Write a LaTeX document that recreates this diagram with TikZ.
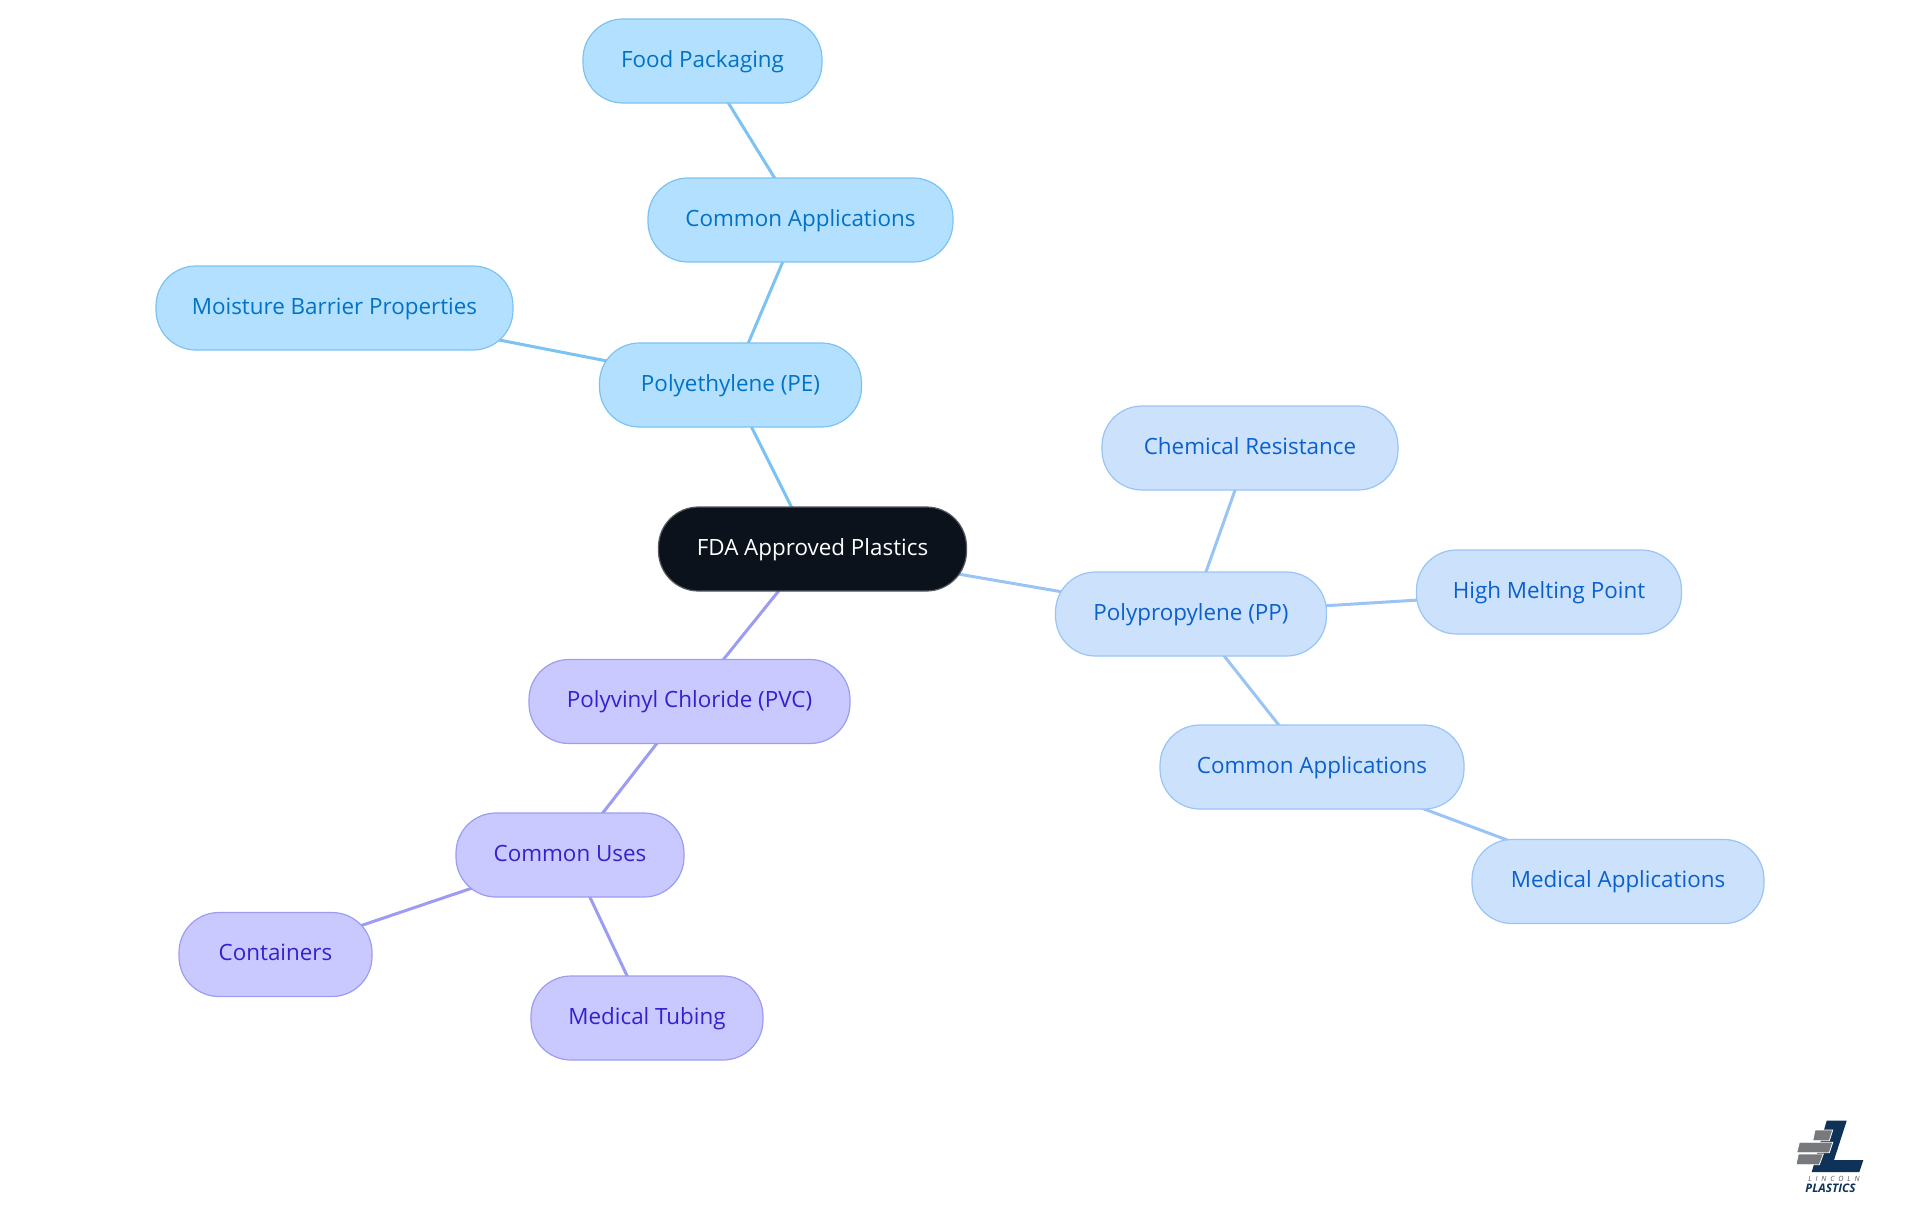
\documentclass[tikz,border=0pt]{standalone}
\usepackage{fontspec}
\setmainfont{Open Sans}
\usetikzlibrary{backgrounds}
\definecolor{rootfill}{HTML}{0B121B}
\definecolor{rootline}{HTML}{55595F}
\definecolor{pefill}{HTML}{B3E0FF}
\definecolor{peline}{HTML}{7CC2F2}
\definecolor{petext}{HTML}{0272C4}
\definecolor{ppfill}{HTML}{CCE2FC}
\definecolor{ppline}{HTML}{99C4F5}
\definecolor{pptext}{HTML}{0B60CC}
\definecolor{pvcfill}{HTML}{C9C9FF}
\definecolor{pvcline}{HTML}{9C9CF2}
\definecolor{pvctext}{HTML}{3521CC}
\definecolor{logonavy}{HTML}{0F3358}
\definecolor{logogray}{HTML}{77797C}
\tikzset{
  pill/.style={rounded corners=20pt,minimum height=42pt,inner sep=0pt,line width=.6pt,text height=8.5pt,text depth=2.5pt,font=\fontsize{11.2}{14}\selectfont},
  rootnode/.style={pill,fill=rootfill,draw=rootline,text=white},
  penode/.style={pill,fill=pefill,draw=peline,text=petext},
  ppnode/.style={pill,fill=ppfill,draw=ppline,text=pptext},
  pvcnode/.style={pill,fill=pvcfill,draw=pvcline,text=pvctext},
  link/.style={line width=1.5pt},
  logobar/.style={fill=logogray,draw=white,line width=.4pt}
}
\begin{document}
\begin{tikzpicture}[x=.5pt,y=-.5pt]
\useasboundingbox (0,0) rectangle (1920,1215);
\node[rootnode,minimum width=154pt] (root) at (812.5,549){FDA Approved Plastics};
% polyethylene
\node[penode,minimum width=131pt] (pe) at (730.5,385){Polyethylene (PE)};
\node[penode,minimum width=152.5pt] (peapps) at (800.5,220){Common Applications};
\node[penode,minimum width=119.5pt] (food) at (702.5,61){Food Packaging};
\node[penode,minimum width=178.5pt] (moisture) at (334.5,308){Moisture Barrier Properties};
% polypropylene
\node[ppnode,minimum width=135.5pt] (pp) at (1191,614){Polypropylene (PP)};
\node[ppnode,minimum width=148pt] (chem) at (1250,448){Chemical Resistance};
\node[ppnode,minimum width=132.5pt] (melt) at (1549,592){High Melting Point};
\node[ppnode,minimum width=152pt] (ppapps) at (1312,767){Common Applications};
\node[ppnode,minimum width=146pt] (medapps) at (1618,881.5){Medical Applications};
% polyvinyl chloride
\node[pvcnode,minimum width=160.5pt] (pvc) at (689.5,701.5){Polyvinyl Chloride (PVC)};
\node[pvcnode,minimum width=114pt] (uses) at (570,855){Common Uses};
\node[pvcnode,minimum width=96.5pt] (cont) at (275.5,954.5){Containers};
\node[pvcnode,minimum width=116pt] (tubing) at (647,1018){Medical Tubing};
\begin{scope}[on background layer]
\draw[link,peline] (root.center) -- (pe.center);
\draw[link,peline] (pe.center) -- (peapps.center);
\draw[link,peline] (peapps.center) -- (food.center);
\draw[link,peline] (pe.center) -- (moisture.center);
\draw[link,ppline] (root.center) -- (pp.center);
\draw[link,ppline] (pp.center) -- (chem.center);
\draw[link,ppline] (pp.center) -- (melt.center);
\draw[link,ppline] (pp.center) -- (ppapps.center);
\draw[link,ppline] (ppapps.center) -- (medapps.center);
\draw[link,pvcline] (root.center) -- (pvc.center);
\draw[link,pvcline] (pvc.center) -- (uses.center);
\draw[link,pvcline] (uses.center) -- (cont.center);
\draw[link,pvcline] (uses.center) -- (tubing.center);
\end{scope}
% logo
\fill[logonavy] (1826.7,1120.7) -- (1846.7,1120.7) -- (1834,1160) -- (1863.3,1160) -- (1859.3,1172) -- (1811.7,1172) -- cycle;
\filldraw[logobar] (1815,1130) -- (1832.7,1130) -- (1829.3,1140.7) -- (1812.7,1140.7) -- cycle;
\filldraw[logobar] (1799.3,1142.3) -- (1832.7,1142.3) -- (1829.3,1152.7) -- (1796.7,1152.7) -- cycle;
\filldraw[logobar] (1798.3,1154) -- (1823.3,1154) -- (1819.3,1164.7) -- (1796,1164.7) -- cycle;
\node[text=logogray!70!black,font=\fontsize{3.6}{4}\selectfont\itshape,inner sep=0pt] (lincoln) at (1834,1178.5){L\hspace{1.9pt}I\hspace{1.9pt}N\hspace{1.9pt}C\hspace{1.9pt}O\hspace{1.9pt}L\hspace{1.9pt}N};
\node[text=logonavy,font=\fontsize{5.9}{6}\selectfont\bfseries\itshape,inner sep=0pt] (plastics) at (1830.5,1188.5){PLASTICS};
\end{tikzpicture}
\end{document}
